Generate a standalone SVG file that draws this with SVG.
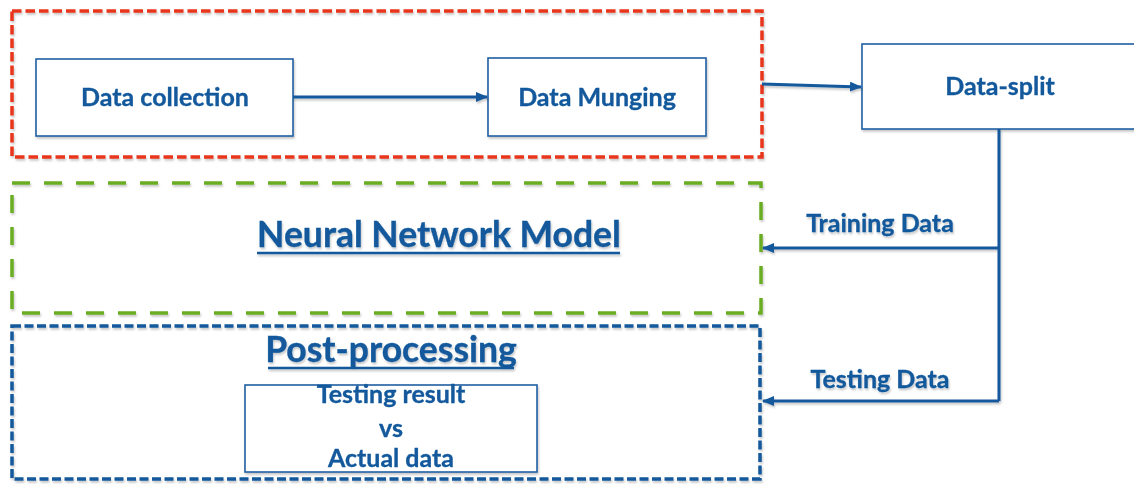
<svg xmlns="http://www.w3.org/2000/svg" width="1134" height="484" viewBox="0 0 1134 484">
  <style>
    .txt { font-family: Lato, "Open Sans", "Liberation Sans", sans-serif; font-weight: 700; fill: #12599c; stroke: #12599c; stroke-width: 0.35; text-anchor: middle; }
    .lbl { font-size: 25px; }
    .big { font-size: 35.5px; }
    .box { fill: #ffffff; stroke: #1f5fa3; stroke-width: 1.6; }
    .grp { fill: none; stroke-width: 3.5; }
    .red { stroke: #e8341c; stroke-dasharray: 9.5 4; }
    .green { stroke: #6aac20; stroke-dasharray: 18 14; }
    .blue { stroke: #13599c; stroke-dasharray: 9 3.5; }
    .link { fill: none; stroke: #13599c; stroke-width: 3; }
    .ul { stroke: #12599c; stroke-width: 2.5; }
  </style>
  <defs>
    <marker id="arrow" viewBox="0 0 12 10" refX="11" refY="5" markerWidth="12" markerHeight="10" markerUnits="userSpaceOnUse" orient="auto">
      <path d="M0,0 L12,5 L0,10 Z" fill="#13599c"/>
    </marker>
    <filter id="shadow" x="-5%" y="-5%" width="110%" height="120%">
      <feDropShadow dx="1" dy="2" stdDeviation="1.2" flood-color="#000" flood-opacity="0.22"/>
    </filter>
  </defs>

  <rect width="1134" height="484" fill="#ffffff"/>

  <!-- dashed stage frames -->
  <g id="stage-preparation" filter="url(#shadow)">
    <rect class="grp red" x="12" y="11" width="750" height="146"/>
  </g>
  <g id="stage-model" filter="url(#shadow)">
    <rect class="grp green" x="12" y="183" width="749" height="130"/>
    <text class="txt big" x="439" y="247">Neural Network Model</text>
    <line class="ul" x1="257" y1="253" x2="620" y2="253"/>
  </g>
  <g id="stage-post" filter="url(#shadow)">
    <rect class="grp blue" x="12" y="326" width="748" height="153"/>
    <text class="txt big" x="391" y="362">Post-processing</text>
    <line class="ul" x1="268" y1="368" x2="514" y2="368"/>
  </g>

  <!-- process boxes -->
  <g id="data-collection" filter="url(#shadow)">
    <rect class="box" x="36" y="59" width="257" height="77"/>
    <text class="txt lbl" x="165" y="106">Data collection</text>
  </g>
  <g id="data-munging" filter="url(#shadow)">
    <rect class="box" x="488" y="58" width="218" height="78"/>
    <text class="txt lbl" x="597" y="106">Data Munging</text>
  </g>
  <g id="data-split" filter="url(#shadow)">
    <rect class="box" x="862" y="44" width="280" height="85"/>
    <text class="txt lbl" x="1000" y="95">Data-split</text>
  </g>
  <g id="comparison" filter="url(#shadow)">
    <rect class="box" x="245" y="385" width="292" height="87"/>
    <text class="txt lbl" x="391" y="403">Testing result</text>
    <text class="txt lbl" x="391" y="437">vs</text>
    <text class="txt lbl" x="391" y="467">Actual data</text>
  </g>

  <!-- connectors -->
  <g id="connectors" filter="url(#shadow)">
    <line class="link" x1="293" y1="97" x2="487" y2="97" marker-end="url(#arrow)"/>
    <line class="link" x1="762" y1="84" x2="861" y2="87" marker-end="url(#arrow)"/>
    <polyline class="link" points="999,129 999,401"/>
    <line class="link" x1="999" y1="248" x2="763" y2="248" marker-end="url(#arrow)"/>
    <line class="link" x1="999" y1="401" x2="763" y2="401" marker-end="url(#arrow)"/>
    <text class="txt lbl" x="880" y="232">Training Data</text>
    <text class="txt lbl" x="880" y="388">Testing Data</text>
  </g>
</svg>
